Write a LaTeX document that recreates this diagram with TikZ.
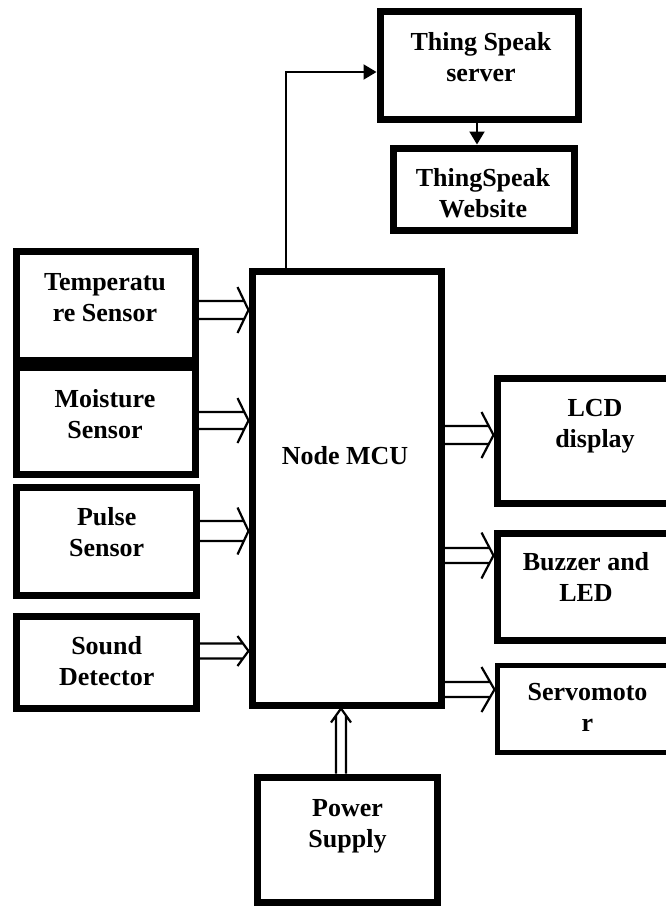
\documentclass[tikz,border=0pt]{standalone}
\usepackage{fontspec}
\setmainfont{Liberation Serif}
\usetikzlibrary{arrows.meta,calc}
\tikzset{
  blk/.style={draw, line width=7pt, inner sep=0pt},
  lbl/.style={font=\bfseries\fontsize{26}{31}\selectfont, align=center, inner sep=0pt, anchor=north},
  hollow/.style={line width=2.2pt, line join=miter},
  thinarr/.style={line width=2pt, -{Triangle[length=13pt,width=15pt]}},
}
% #1 from node, #2 to node, #3 centre y, #4 shaft half width, #5 head half width, #6 head length
\newcommand\hollowR[6]{%
  \draw[hollow] let \p1=(#1.east), \p2=(#2.west) in
    (\x1,{-(#3-#4)*1pt}) -- ({\x2-#6*#4/#5*1pt},{-(#3-#4)*1pt})
    (\x1,{-(#3+#4)*1pt}) -- ({\x2-#6*#4/#5*1pt},{-(#3+#4)*1pt})
    ({\x2-#6*1pt},{-(#3-#5)*1pt}) -- (\x2,{-#3*1pt}) -- ({\x2-#6*1pt},{-(#3+#5)*1pt});%
}
% #1 from node (below), #2 to node (above), #3 centre x, #4 shaft half width, #5 head half width, #6 head length
\newcommand\hollowU[6]{%
  \draw[hollow] let \p1=(#1.north), \p2=(#2.south) in
    ({(#3-#4)*1pt},\y1) -- ({(#3-#4)*1pt},{\y2-#6*#4/#5*1pt})
    ({(#3+#4)*1pt},\y1) -- ({(#3+#4)*1pt},{\y2-#6*#4/#5*1pt})
    ({(#3-#5)*1pt},{\y2-#6*1pt}) -- ({#3*1pt},\y2) -- ({(#3+#5)*1pt},{\y2-#6*1pt});%
}
\begin{document}
\begin{tikzpicture}[x=1pt, y=-1pt]
\useasboundingbox (0,0) rectangle (666,906);

% boxes
\node[blk, minimum width=178.5pt, minimum height=109pt] (temp) at (105.75,305.5) {};
\node[blk, minimum width=178.5pt, minimum height=107pt] (moist) at (105.75,420.5) {};
\node[blk, minimum width=179.5pt, minimum height=108pt] (pulse) at (106.25,541) {};
\node[blk, minimum width=179.5pt, minimum height=92pt] (sound) at (106.25,662) {};
\node[blk, minimum width=189pt, minimum height=434pt] (mcu) at (346.5,488) {};
\node[blk, minimum width=198pt, minimum height=108pt] (server) at (479,65) {};
\node[blk, minimum width=181.5pt, minimum height=82pt] (web) at (483.75,189) {};
\node[blk, minimum width=183pt, minimum height=125pt] (lcd) at (588.5,440.5) {};
\node[blk, minimum width=183pt, minimum height=107pt] (buzz) at (588.5,586.5) {};
\node[blk, line width=5pt, minimum width=183pt, minimum height=87pt] (servo) at (588.5,708.5) {};
\node[blk, minimum width=180pt, minimum height=125pt] (power) at (347,839.5) {};

% texts
\node[lbl] (temp-t) at (105,273) {Temperatu\\re Sensor};
\node[lbl] (moist-t) at (105,389) {Moisture\\Sensor};
\node[lbl] (pulse-t) at (106.7,507) {Pulse\\Sensor};
\node[lbl] (sound-t) at (106.7,636) {Sound\\Detector};
\node[lbl] (mcu-t) at (345,446) {Node MCU};
\node[lbl] (server-t) at (481,32) {Thing Speak\\server};
\node[lbl] (web-t) at (483,168) {ThingSpeak\\Website};
\node[lbl] (lcd-t) at (595,399) {LCD\\display};
\node[lbl] (buzz-t) at (586,552) {Buzzer and\\LED};
\node[lbl] (servo-t) at (587.5,683) {Servomoto\\r};
\node[lbl] (power-t) at (347.5,799) {Power\\Supply};

% hollow arrows
\hollowR{temp}{mcu}{310}{9}{23}{11}
\hollowR{moist}{mcu}{420.5}{8.5}{22.5}{11}
\hollowR{pulse}{mcu}{531}{10}{23.5}{11}
\hollowR{sound}{mcu}{651}{7.5}{15}{11}
\hollowR{mcu}{lcd}{435}{9}{23}{12}
\hollowR{mcu}{buzz}{555.5}{7.5}{23}{12}
\hollowR{mcu}{servo}{689.5}{7.5}{22.5}{13}
\hollowU{power}{mcu}{341}{5}{10}{14}

% thin arrows
\coordinate (mo) at ($(mcu.north west)+(37.5,0)$);
\coordinate (si) at ($(server.west)+(0,7)$);
\draw[thinarr] (mo) |- (si);
\coordinate (sw) at ($(server.south)+(-2,0)$);
\draw[thinarr] (sw) -- (sw |- web.north);
\end{tikzpicture}
\end{document}
